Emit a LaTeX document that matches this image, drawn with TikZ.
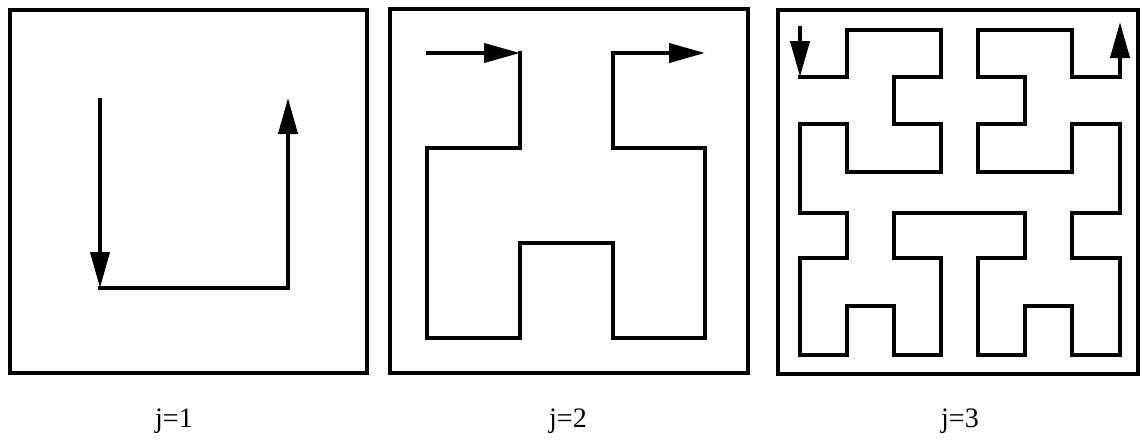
\documentclass[tikz,border=0pt]{standalone}
\usepackage{tikz}
\usetikzlibrary{arrows.meta}
\usepackage{fontspec}
\setmainfont{Liberation Serif}

\begin{document}
\begin{tikzpicture}[x=0.02cm, y=-0.02cm,
    frame/.style={draw=black, line width=2.4pt},
    hilb/.style={draw=black, line width=2.3pt, line join=miter, line cap=rect},
    hilbarrow/.style={hilb, -{Triangle[length=0.72cm, width=0.38cm]}},
    jlabel/.style={anchor=base, font=\fontsize{16}{19}\selectfont}]
    \useasboundingbox (0,0) rectangle (1142,441);

    % j=1
    \draw[frame] (10,10) rectangle (367,373);
    \draw[hilbarrow] (100,100) -- (100,288);
    \draw[hilb] (100,288) -- (288,288);
    \draw[hilbarrow] (288,288) -- (288,98);
    \node[jlabel] at (174,427) {j=1};

    % j=2
    \draw[frame] (390,9) rectangle (748,373);
    \draw[hilbarrow] (428,53) -- (520,53);
    \draw[hilb] (520,53) -- (520,148) -- (427,148) -- (427,338)
      -- (520,338) -- (520,243) -- (613,243) -- (613,338)
      -- (705,338) -- (705,148) -- (613,148) -- (613,53);
    \draw[hilbarrow] (613,53) -- (705,53);
    \node[jlabel] at (568,427) {j=2};

    % j=3
    \draw[frame] (778,10) rectangle (1138,374);
    \draw[hilbarrow] (800,28) -- (800,77);
    \draw[hilb] (800,77) -- (847,77) -- (847,30) -- (941,30)
      -- (941,77) -- (894,77) -- (894,124) -- (941,124)
      -- (941,172) -- (847,172) -- (847,124) -- (800,124)
      -- (800,213) -- (847,213) -- (847,258) -- (800,258)
      -- (800,355) -- (847,355) -- (847,306) -- (894,306)
      -- (894,355) -- (941,355) -- (941,258) -- (894,258)
      -- (894,213) -- (1025,213) -- (1025,258) -- (978,258)
      -- (978,355) -- (1025,355) -- (1025,306) -- (1072,306)
      -- (1072,355) -- (1120,355) -- (1120,258) -- (1072,258)
      -- (1072,213) -- (1120,213) -- (1120,124) -- (1072,124)
      -- (1072,172) -- (978,172) -- (978,124) -- (1025,124)
      -- (1025,77) -- (978,77) -- (978,30) -- (1072,30)
      -- (1072,77) -- (1120,77);
    \draw[hilbarrow] (1120,77) -- (1120,22);
    \node[jlabel] at (960,427) {j=3};
\end{tikzpicture}
\end{document}
